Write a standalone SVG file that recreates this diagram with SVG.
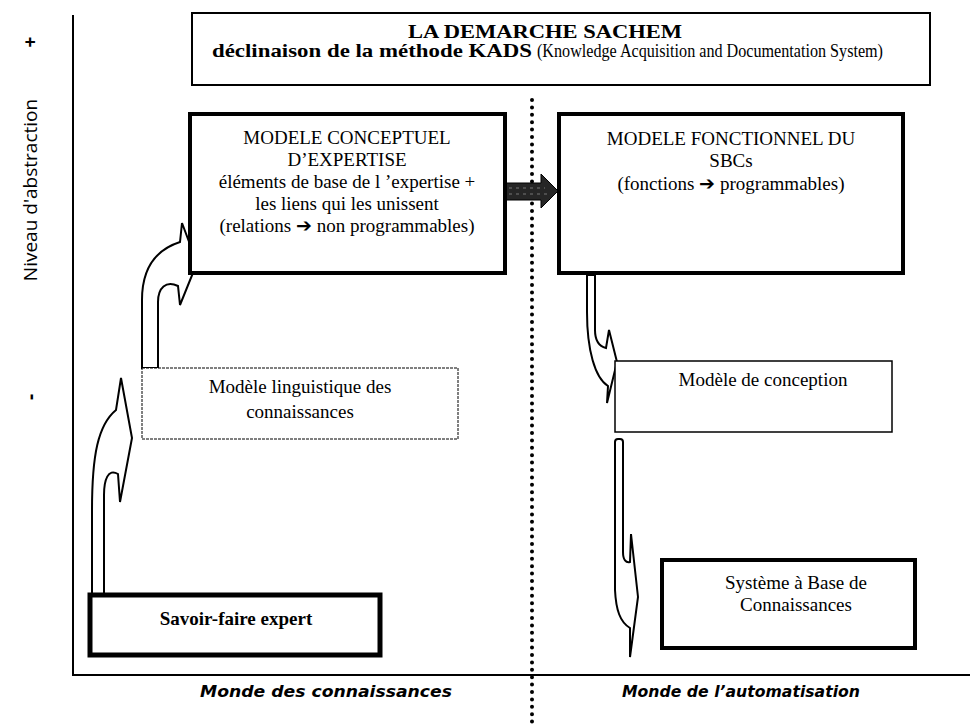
<svg xmlns="http://www.w3.org/2000/svg" width="970" height="725" viewBox="0 0 970 725">
<style>
.t{font-family:"Liberation Serif","Times New Roman",serif;font-size:19px;fill:#000;text-anchor:middle}
.b{font-weight:bold}
.box{fill:#fff;stroke:#000}
.arr{fill:#fff;stroke:#000;stroke-width:2;stroke-linejoin:miter}
.w{font-family:"DejaVu Sans",sans-serif;font-weight:bold;font-style:italic;font-size:16px;fill:#000}
.v{font-family:"Open Sans","DejaVu Sans",sans-serif;font-size:19px;fill:#000;text-anchor:middle}
</style>
<g id="axes" fill="none" stroke="#000">
<path d="M73 15 V675 H970" stroke-width="2"/>
<line x1="532" y1="100" x2="532" y2="725" stroke-width="4" stroke-linecap="round" stroke-dasharray="0 7.4"/>
</g>
<g id="axis-label">
<text class="v" transform="translate(37,190) rotate(-90)">Niveau d'abstraction</text>
<text class="v" font-weight="bold" transform="translate(37,42) rotate(-90)">+</text>
<text class="v" font-weight="bold" transform="translate(37,397) rotate(-90)">-</text>
</g>
<g id="title">
<rect class="box" x="192" y="13" width="738" height="72" stroke-width="2"/>
<text class="t b" x="545" y="38" font-size="20" textLength="274" lengthAdjust="spacingAndGlyphs">LA DEMARCHE SACHEM</text>
<text class="t b" x="212" y="57" font-size="18" style="text-anchor:start" textLength="320" lengthAdjust="spacingAndGlyphs">déclinaison de la méthode KADS</text>
<text class="t" x="537" y="57" font-size="16" style="text-anchor:start" textLength="346" lengthAdjust="spacingAndGlyphs">(Knowledge Acquisition and Documentation System)</text>
</g>
<g id="connectors">
<path class="arr" d="M92 595 L92 510 C92 455 98 425 116 410 L121 378 L132 438 L120 502 L118 474 C108 468 104 480 104 495 L104 595 Z"/>
<path class="arr" d="M142 368 L142 300 C142 268 155 250 180 242 L182 223 L197 263 L180 305 L178 286 C166 280 158 288 158 302 L158 368 Z"/>
<path class="arr" d="M587 275 L587 312 C587 350 595 378 608 386 L607 403 L617 362 L609 330 L606 348 C598 346 595 340 595 330 L595 275 Z"/>
<path class="arr" d="M615 442 Q615 439 618 439 L620 439 Q623 439 623 442 L623 552 C623 560 626 563 630 562 L631 534 L638 597 L630 657 L630 628 C620 622 616 610 615 590 Z"/>
<path d="M499 183 H541 V174 L558 191 L541 208 V200 H499 Z" fill="#262626" stroke="#000" stroke-width="1"/>
<path d="M502 188 H545 M502 194 H548" stroke="#777" stroke-width="1" stroke-dasharray="3 4" fill="none"/>
</g>
<g id="conceptuel">
<rect class="box" x="190" y="114" width="315" height="159" stroke-width="4"/>
<text class="t" x="347" y="144">MODELE CONCEPTUEL</text>
<text class="t" x="347" y="166">D’EXPERTISE</text>
<text class="t" x="347" y="188">éléments de base de l ’expertise +</text>
<text class="t" x="347" y="210">les liens qui les unissent</text>
<text class="t" x="347" y="232">(relations ➔ non programmables)</text>
</g>
<g id="fonctionnel">
<rect class="box" x="559" y="114" width="344" height="159" stroke-width="4"/>
<text class="t" x="731" y="145">MODELE FONCTIONNEL DU</text>
<text class="t" x="731" y="167">SBCs</text>
<text class="t" x="731" y="190">(fonctions ➔ programmables)</text>
</g>
<g id="linguistique">
<rect class="box" x="142" y="368" width="316" height="71" stroke="#444" stroke-width="1" stroke-dasharray="3 1"/>
<text class="t" x="300" y="393">Modèle linguistique des</text>
<text class="t" x="300" y="418">connaissances</text>
</g>
<g id="savoir-faire">
<rect class="box" x="90" y="595" width="290" height="60" stroke-width="5"/>
<text class="t b" x="236" y="625">Savoir-faire expert</text>
</g>
<g id="conception">
<rect class="box" x="615" y="361" width="277" height="71" stroke-width="1.5"/>
<text class="t" x="763" y="386">Modèle de conception</text>
</g>
<g id="systeme">
<rect class="box" x="662" y="560" width="253" height="88" stroke-width="4"/>
<text class="t" x="796" y="589">Système à Base de</text>
<text class="t" x="796" y="611">Connaissances</text>
</g>
<g id="worlds">
<text class="w" x="200" y="697" textLength="252" lengthAdjust="spacingAndGlyphs">Monde des connaissances</text>
<text class="w" x="622" y="697" textLength="238" lengthAdjust="spacingAndGlyphs">Monde de l’automatisation</text>
</g>
</svg>
